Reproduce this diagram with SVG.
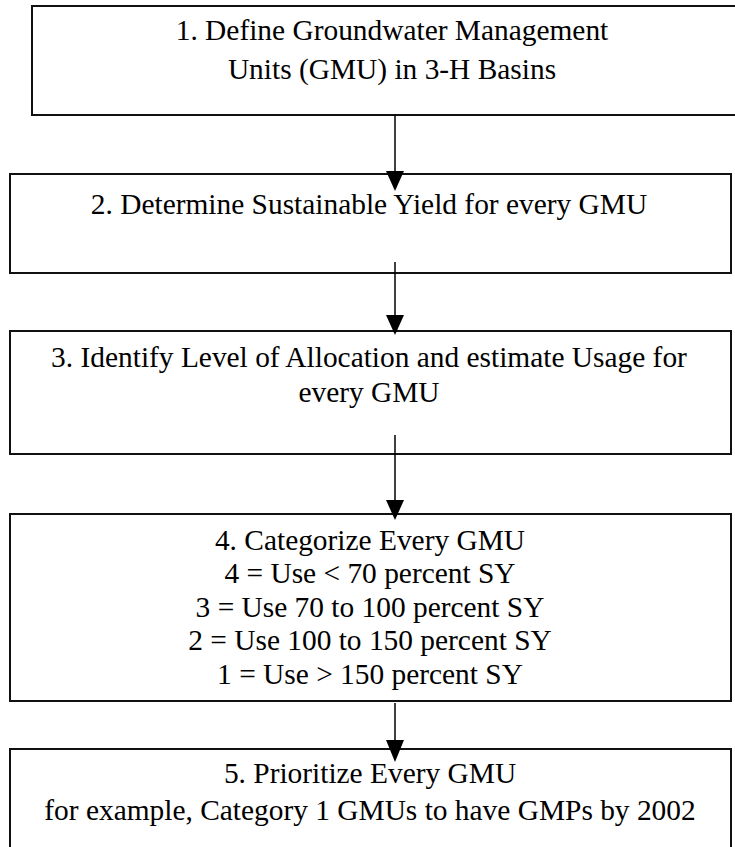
<svg xmlns="http://www.w3.org/2000/svg" width="735" height="847" viewBox="0 0 735 847">
<style>
.box{fill:#fff;stroke:#111;stroke-width:2}
.t{font-family:"Liberation Serif","Times New Roman",serif;font-size:29.4px;fill:#000;text-anchor:middle}
.c{stroke:#000;stroke-width:1.5;fill:none}
.ah{fill:#000}
</style>
<rect width="735" height="847" fill="#fff"/>
<g id="n1">
<rect class="box" x="32" y="6" width="722" height="109"/>
<text class="t" x="392" y="40">1. Define Groundwater Management</text>
<text class="t" x="392" y="79">Units (GMU) in 3-H Basins</text>
</g>
<g id="n2">
<rect class="box" x="10" y="174" width="721" height="99"/>
<text class="t" x="369" y="214">2. Determine Sustainable Yield for every GMU</text>
</g>
<g id="n3">
<rect class="box" x="10" y="331" width="721" height="123"/>
<text class="t" x="369" y="367">3. Identify Level of Allocation and estimate Usage for</text>
<text class="t" x="369" y="402">every GMU</text>
</g>
<g id="n4">
<rect class="box" x="10" y="514" width="721" height="187"/>
<text class="t" x="370" y="550">4. Categorize Every GMU</text>
<text class="t" x="370" y="583">4 = Use &lt; 70 percent SY</text>
<text class="t" x="370" y="617">3 = Use 70 to 100 percent SY</text>
<text class="t" x="370" y="650">2 = Use 100 to 150 percent SY</text>
<text class="t" x="370" y="684">1 = Use &gt; 150 percent SY</text>
</g>
<g id="n5">
<rect class="box" x="10" y="749" width="721" height="120"/>
<text class="t" x="370" y="783">5. Prioritize Every GMU</text>
<text class="t" x="370" y="820">for example, Category 1 GMUs to have GMPs by 2002</text>
</g>
<g id="connectors">
<line class="c" x1="395" y1="115" x2="395" y2="172"/>
<polygon class="ah" points="386,171 404,171 395,191"/>
<line class="c" x1="395" y1="262" x2="395" y2="316"/>
<polygon class="ah" points="386,315 404,315 395,335"/>
<line class="c" x1="395" y1="435" x2="395" y2="501"/>
<polygon class="ah" points="386,500 404,500 395,520"/>
<line class="c" x1="395" y1="703" x2="395" y2="741"/>
<polygon class="ah" points="386,740 404,740 395,762"/>
</g>
</svg>
